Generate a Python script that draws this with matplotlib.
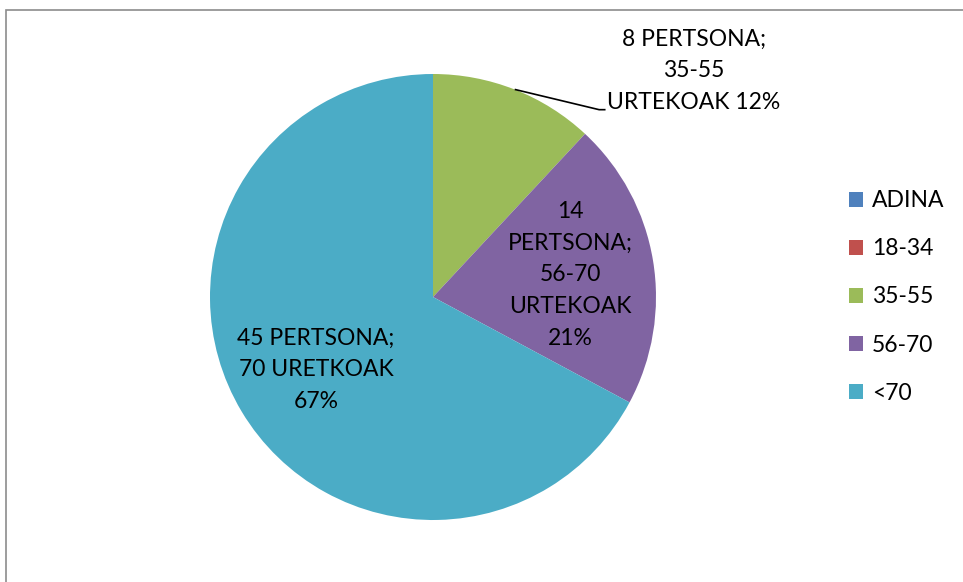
import matplotlib
matplotlib.use("Agg")
import matplotlib.pyplot as plt
from matplotlib.patches import Rectangle
import numpy as np

categories = ["ADINA", "18-34", "35-55", "56-70", "<70"]
values = [0, 0, 8, 14, 45]
colors = ["#4F81BD", "#C0504D", "#9BBB59", "#8064A2", "#4BACC6"]
label_texts = [None, None,
               "8 PERTSONA;\n35-55\nURTEKOAK 12%",
               "14\nPERTSONA;\n56-70\nURTEKOAK\n21%",
               "45 PERTSONA;\n70 URETKOAK\n67%"]

plt.rcParams['font.family'] = ['Lato', 'DejaVu Sans']
W, H = 963, 582
fig = plt.figure(figsize=(W/100, H/100), dpi=100)

# border
fig.add_artist(Rectangle((5.5/W, -0.1), 1.2, (H - 9.5)/H + 0.1, transform=fig.transFigure,
                         fill=False, edgecolor="#8c8c8c", lw=1.2))

cx, cy, r = 433, 582 - 297, 223
ax = fig.add_axes([(cx - r)/W, (cy - r)/H, 2*r/W, 2*r/H])
wedges, _ = ax.pie(values, colors=colors, startangle=90, counterclock=False,
                   radius=1, wedgeprops=dict(linewidth=0))
ax.set_xlim(-1, 1)
ax.set_ylim(-1, 1)
ax.set_aspect('equal')
ax.axis('off')

fs = 16.5
ls = 1.63
# inside labels
ax.text(0.615, 0.10, label_texts[3], ha='center', va='center', fontsize=fs,
        linespacing=ls, color='black')
ax.text(-0.525, -0.327, label_texts[4], ha='center', va='center', fontsize=fs,
        linespacing=ls, color='black')
# outside label with leader line
ax.text(1.17, 1.015, label_texts[2], ha='center', va='center', fontsize=fs,
        linespacing=ls, color='black', clip_on=False)
ax.plot([0.37, 0.745, 0.77], [0.93, 0.84, 0.84], color='black', lw=1.2, clip_on=False)

# legend
handles = [Rectangle((0, 0), 1, 1, facecolor=c) for c in colors]
fig.legend(handles, categories, loc='center left', bbox_to_anchor=(849/W, (H - 297)/H),
           frameon=False, fontsize=fs, handlelength=0.6, handleheight=0.6,
           handletextpad=0.4, labelspacing=1.18, borderpad=0, borderaxespad=0)

fig.savefig("out.png", dpi=100)
